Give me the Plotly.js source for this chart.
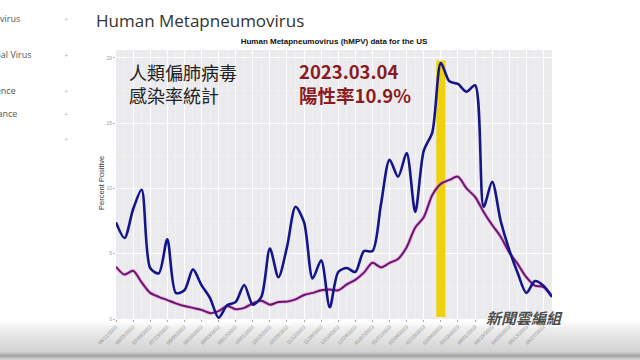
<!DOCTYPE html>
<html>
<head>
<meta charset="utf-8">
<script src="https://cdn.plot.ly/plotly-3.0.1.min.js"></script>
<style>
  html, body { margin: 0; padding: 0; }
  body {
    width: 640px; height: 360px; overflow: hidden;
    background: linear-gradient(to bottom, #ffffff 0px, #ffffff 321px, #efefef 328px, #e0e0e0 340px, #d2d2d2 352px, #a0a0a0 356px, #c6c6c6 358px, #d4d4d4 360px);
  }
  #chart { width: 640px; height: 360px; }
</style>
</head>
<body>
<div id="chart"></div>
<script>
// Weekly dates (week ending)
const weeks = [
  "2022-06-11","2022-06-18","2022-06-25","2022-07-02","2022-07-09","2022-07-16","2022-07-23","2022-07-30",
  "2022-08-06","2022-08-13","2022-08-20","2022-08-27","2022-09-03","2022-09-10","2022-09-17","2022-09-24",
  "2022-10-01","2022-10-08","2022-10-15","2022-10-22","2022-10-29","2022-11-05","2022-11-12","2022-11-19",
  "2022-11-26","2022-12-03","2022-12-10","2022-12-17","2022-12-24","2022-12-31","2023-01-07","2023-01-14",
  "2023-01-21","2023-01-28","2023-02-04","2023-02-11","2023-02-18","2023-02-25","2023-03-04","2023-03-11",
  "2023-03-18","2023-03-25","2023-04-01","2023-04-08","2023-04-15","2023-04-22","2023-04-29","2023-05-06",
  "2023-05-13","2023-05-20","2023-05-27","2023-06-03"
];
// Weekly percent positive (blue)
const weeklyPositive = [
  7.4, 6.2, 8.4, 9.9, 3.9, 3.5, 6.1, 2.0, 2.2, 3.8, 2.6, 1.6, 0.1,
  1.05, 1.3, 2.6, 1.1, 1.7, 5.4, 3.2, 5.5, 8.6, 7.4, 3.1, 4.5, 0.9,
  3.6, 3.9, 3.6, 5.2, 5.2, 8.8, 12.2, 10.9, 12.7, 8.2, 12.9, 14.3, 19.6,
  18.2, 18.0, 17.4, 17.9, 8.6, 10.5, 7.5, 5.3, 3.5, 2.0, 2.9, 2.55, 1.7
];
// Averaged percent positive (purple)
const averagePositive = [
  4.0, 3.4, 3.7, 2.8, 2.0, 1.7, 1.45, 1.2, 1.0, 0.85, 0.7, 0.45, 0.6,
  1.0, 0.75, 0.85, 1.2, 1.4, 1.1, 1.3, 1.33, 1.5, 1.84, 2.0, 2.2, 2.25,
  2.2, 2.65, 3.0, 3.55, 4.3, 3.95, 4.3, 4.6, 5.5, 7.0, 7.8, 9.5, 10.35,
  10.65, 10.9, 10.0, 9.35, 8.2, 7.2, 6.3, 5.1, 4.2, 3.2, 2.55, 2.45, 1.7
];
const tickDates = weeks.filter((d, i) => i % 2 === 0);
const tickLabels = tickDates.map(d => { const p = d.split("-"); return p[1] + "/" + p[2] + "/" + p[0]; });
const highlightWeek = "2023-03-04";
const yTicks = [0, 5, 10, 15, 20];

const sidebarItems = [
  { text: "Human Metapneumovirus", right: 22, y: 18.5 },
  { text: "Respiratory Syncytial Virus", right: 34, y: 54 },
  { text: "Genomic Sequence", right: 18, y: 90 },
  { text: "Surveillance", right: 19, y: 113.5 },
  { text: "Resources", right: 2, y: 138 }
];

// pixel helpers for the plot domain
const L = 116, R = 552, T = 50, B = 319;
const px = x => (x - L) / (R - L);
const py = y => (B - y) / (B - T);

const annotations = [];
sidebarItems.forEach(it => {
  annotations.push({ xref: "paper", yref: "paper", x: px(it.right), y: py(it.y), xanchor: "right", yanchor: "middle",
    text: it.text, showarrow: false, font: { family: "Open Sans", size: 9, color: "#555" } });
  annotations.push({ xref: "paper", yref: "paper", x: px(66), y: py(it.y), xanchor: "center", yanchor: "middle",
    text: "+", showarrow: false, font: { family: "Open Sans", size: 8, color: "#c0c0c0" } });
});
annotations.push(
  { xref: "paper", yref: "paper", x: px(94), y: py(21), xanchor: "left", yanchor: "middle", showarrow: false,
    text: "Human Metapneumovirus", font: { family: "Open Sans", size: 17, color: "#333" } },
  { xref: "paper", yref: "paper", x: px(101), y: py(183), xanchor: "center", yanchor: "middle", showarrow: false,
    textangle: -90, text: "Percent Positive", font: { family: "Liberation Sans", size: 7.5, color: "#333" } },
  { xref: "paper", yref: "paper", x: px(127), y: py(83.5), xanchor: "left", yanchor: "middle", showarrow: false, align: "left",
    text: "人類偏肺病毒<br>感染率統計", font: { family: "Noto Sans CJK TC", size: 18, color: "#222" } },
  { xref: "paper", yref: "paper", x: px(297), y: py(83), xanchor: "left", yanchor: "middle", showarrow: false, align: "left",
    text: "<b>2023.03.04<br>陽性率10.9%</b>", font: { family: "Noto Sans CJK TC", size: 18.5, color: "#8a1a22" } },
  { xref: "paper", yref: "paper", x: px(524), y: py(317), xanchor: "center", yanchor: "middle", showarrow: false,
    text: "<b><i>新聞雲編組</i></b>", font: { family: "Noto Sans CJK TC", size: 15, color: "#4d4d4d", shadow: "1px 1px 0px #ffffff" } }
);

const traces = [
  { x: weeks, y: averagePositive, type: "scatter", mode: "lines", hoverinfo: "skip",
    line: { color: "rgba(226,120,222,0.55)", width: 3.6, shape: "spline", smoothing: 0.8 }, showlegend: false },
  { x: weeks, y: averagePositive, type: "scatter", mode: "lines", name: "Average",
    line: { color: "#6a186a", width: 2, shape: "spline", smoothing: 0.8 }, showlegend: false },
  { x: weeks, y: weeklyPositive, type: "scatter", mode: "lines", name: "Weekly",
    line: { color: "#15158a", width: 2.6, shape: "spline", smoothing: 0.8 }, showlegend: false }
];

function shiftDate(d, days) {
  const t = new Date(d + "T00:00:00Z").getTime() + days * 86400000;
  return new Date(t).toISOString().slice(0, 19).replace("T", " ");
}

const layout = {
  width: 640, height: 360,
  margin: { l: L, r: 640 - R, t: T, b: 360 - B },
  paper_bgcolor: "rgba(0,0,0,0)",
  plot_bgcolor: "#ebebee",
  font: { family: "Liberation Sans" },
  title: { text: "<b>Human Metapneumovirus (hMPV) data for the US</b>", font: { family: "Liberation Sans", size: 8, color: "#111" },
    xref: "paper", x: 0.5, xanchor: "center", yref: "container", y: 1 - 41.5 / 360, yanchor: "middle" },
  xaxis: {
    type: "date", range: [weeks[0], weeks[weeks.length - 1]],
    tickmode: "array", tickvals: tickDates, ticktext: tickLabels, tickangle: -45,
    tickfont: { size: 5, color: "#8a8a8a" }, ticks: "outside", ticklen: 2, tickcolor: "#aaa",
    showgrid: true, gridcolor: "#ffffff", gridwidth: 1, zeroline: false, showline: false,
    minor: { tickvals: weeks.filter((d, i) => i % 2 === 1), showgrid: true, gridcolor: "rgba(255,255,255,0.55)", gridwidth: 0.5, ticks: "" }
  },
  yaxis: {
    range: [0, 20.6], tickvals: yTicks, ticktext: yTicks.map(String),
    tickfont: { size: 5, color: "#9a9a9a" }, ticks: "outside", ticklen: 2, tickcolor: "#bbb",
    showgrid: true, gridcolor: "#ffffff", gridwidth: 1, zeroline: false, showline: false,
    minor: { dtick: 2.5, showgrid: true, gridcolor: "rgba(255,255,255,0.55)", gridwidth: 0.5, ticks: "" }
  },
  shapes: [
    { type: "rect", layer: "between", xref: "x", yref: "y",
      x0: shiftDate(highlightWeek, -3.7), x1: shiftDate(highlightWeek, 3.7), y0: 0.15, y1: 19.8,
      fillcolor: "#efd10c", line: { width: 0 } }
  ],
  annotations: annotations
};

Plotly.newPlot("chart", traces, layout, { staticPlot: true, displayModeBar: false });
</script>
</body>
</html>
